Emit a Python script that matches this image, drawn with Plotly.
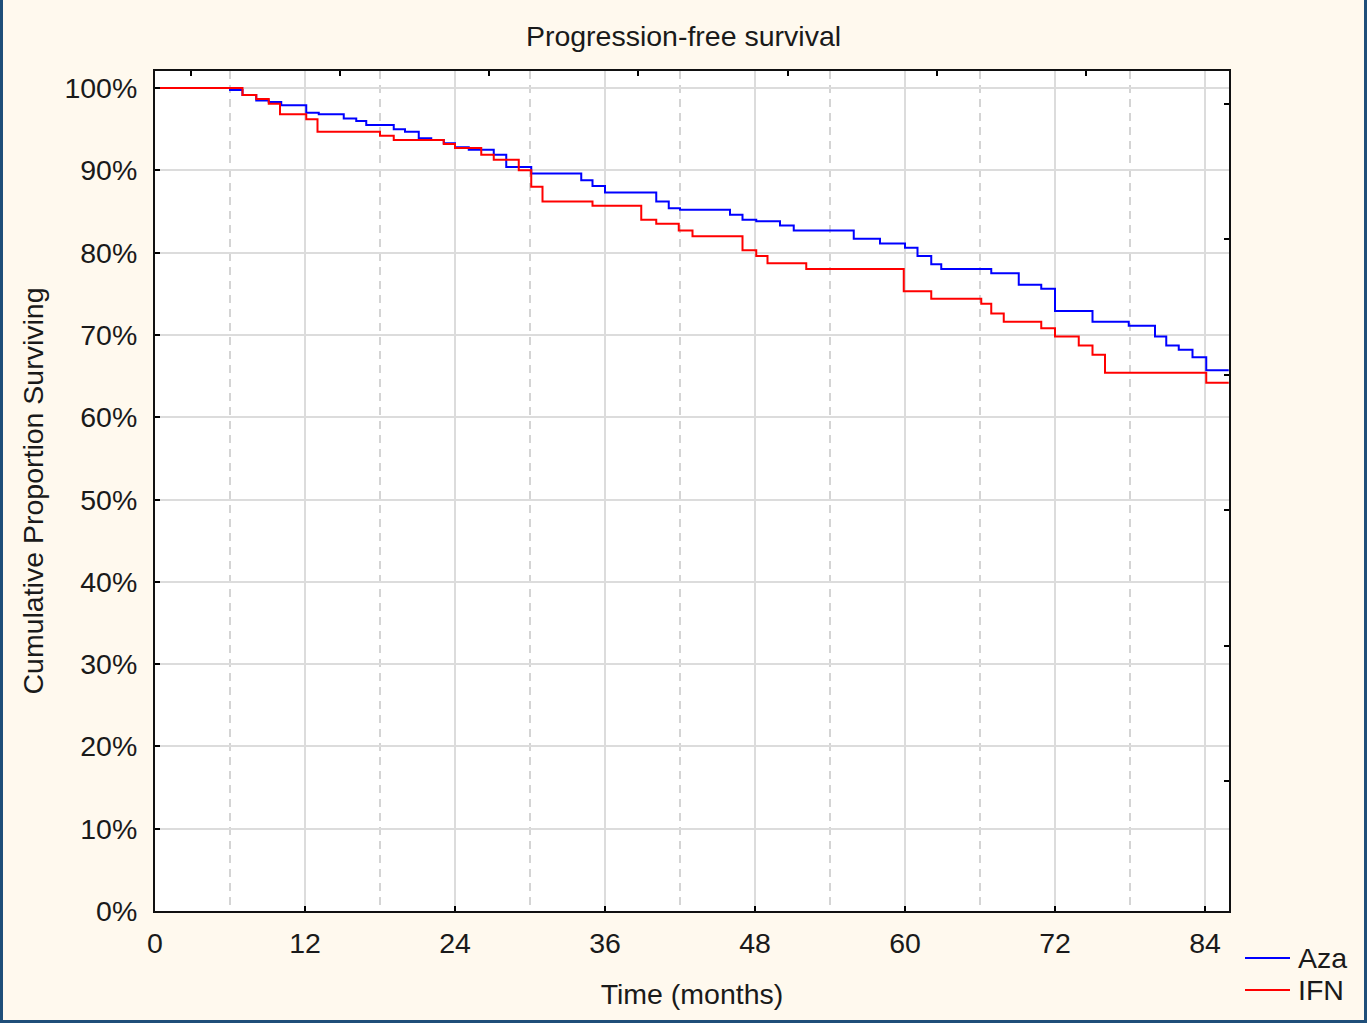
import plotly.graph_objects as go

# ---- data (months, % surviving) ----
aza_time = [0, 6.0, 7.0, 8.1, 9.1, 10.1, 12.1, 13.1, 15.1, 16.1, 16.9, 19.1, 20.0, 21.1,
            22.1, 23.1, 24.0, 25.1, 27.1, 28.1, 30.1, 34.1, 35.0, 36.0, 40.1, 41.1, 42.0,
            46.0, 47.0, 48.1, 50.0, 51.1, 55.9, 58.0, 60.0, 61.0, 62.1, 62.9, 66.9, 69.1,
            70.9, 72.0, 75.0, 77.9, 80.0, 80.9, 81.9, 83.0, 84.1, 85.9]
aza_surv = [100, 99.75, 99.15, 98.5, 98.3, 97.9, 97.0, 96.8, 96.3, 96.0, 95.5, 95.0, 94.7, 93.9,
            93.7, 93.3, 92.8, 92.5, 91.9, 90.4, 89.6, 88.8, 88.1, 87.3, 86.2, 85.4, 85.2,
            84.6, 84.0, 83.8, 83.3, 82.7, 81.7, 81.1, 80.6, 79.6, 78.6, 78.0, 77.5, 76.1,
            75.6, 72.9, 71.6, 71.1, 69.8, 68.7, 68.2, 67.3, 65.7, 65.7]

ifn_time = [0, 7.0, 8.1, 9.1, 10.0, 12.1, 13.0, 18.0, 19.1, 23.1, 24.0, 26.1, 27.1, 29.1,
            30.1, 31.0, 35.0, 38.9, 40.1, 41.9, 43.0, 47.0, 48.1, 49.0, 52.1, 59.9, 62.1,
            66.1, 66.9, 67.9, 70.9, 72.0, 73.9, 75.0, 76.0, 84.1, 85.9]
ifn_surv = [100, 99.15, 98.66, 98.1, 96.8, 96.2, 94.7, 94.2, 93.7, 93.2, 92.7, 91.9, 91.3, 90.0,
            88.0, 86.2, 85.7, 84.0, 83.5, 82.7, 82.0, 80.3, 79.6, 78.7, 78.0, 75.3, 74.4,
            73.8, 72.6, 71.6, 70.8, 69.8, 68.7, 67.6, 65.4, 64.2, 64.2]

series_names = ["Aza", "IFN"]
series_colors = ["#0000ff", "#ff0000"]

x_ticks = [0, 12, 24, 36, 48, 60, 72, 84]
x_minor = [6, 18, 30, 42, 54, 66, 78]
y_ticks = [0, 10, 20, 30, 40, 50, 60, 70, 80, 90, 100]
y_labels = [f"{v}%" for v in y_ticks]

# ---- layout geometry ----
W, H = 1367, 1023
L, R, T, B = 155, 1229, 71, 911
FONT = "Liberation Sans, Arial, sans-serif"
FS = 28.5
TXT = "#1a1a1a"


def px_x(px):
    return (px - L) / (R - L)


def px_y(py):
    return (B - py) / (B - T)


fig = go.Figure()
for t, s, n, c in [(aza_time, aza_surv, series_names[0], series_colors[0]),
                   (ifn_time, ifn_surv, series_names[1], series_colors[1])]:
    fig.add_trace(go.Scatter(x=t, y=s, mode="lines", name=n, showlegend=False,
                             line=dict(color=c, width=2, shape="hv")))
# helper trace to show the secondary (unlabelled) tick axes
fig.add_trace(go.Scatter(x=[None], y=[None], xaxis="x2", yaxis="y2", showlegend=False,
                         hoverinfo="skip"))

fig.update_layout(
    width=W, height=H, autosize=False,
    margin=dict(l=L, r=W - R, t=T, b=H - B, pad=0, autoexpand=False),
    paper_bgcolor="#fff9ee", plot_bgcolor="#ffffff",
    font=dict(family=FONT, size=FS, color=TXT),
    title=dict(text="Progression-free survival", x=0.5, xref="container", xanchor="center",
               y=1 - 36 / H, yref="container", yanchor="middle",
               font=dict(size=FS, color=TXT)),
    xaxis=dict(range=[0, 85.92], tickvals=x_ticks, ticks="inside", ticklen=5, tickwidth=2,
               tickcolor="#000", showline=True, linewidth=2, linecolor="#111", mirror=True,
               showgrid=True, gridcolor="#dcdcdc", gridwidth=2, zeroline=False,
               minor=dict(tickvals=x_minor, showgrid=True, gridcolor="#d4d4d4", gridwidth=1.5,
                          griddash="8px,6px", ticks=""),
               title=dict(text="Time (months)", standoff=26, font=dict(size=FS)),
               ticklabelstandoff=6),
    yaxis=dict(range=[0, 102.07], tickvals=y_ticks, ticktext=y_labels, ticks="inside",
               ticklen=5, tickwidth=2, tickcolor="#000", showline=True, linewidth=2,
               linecolor="#111", mirror=True, showgrid=True, gridcolor="#dcdcdc", gridwidth=2,
               zeroline=False,
               title=dict(text="Cumulative Proportion Surviving", standoff=12,
                          font=dict(size=FS)),
               ticklabelstandoff=10),
    xaxis2=dict(overlaying="x", side="top", anchor="y", range=[-0.238, 6.956],
                tickvals=[0, 1, 2, 3, 4, 5, 6], ticks="inside", ticklen=5, tickwidth=2,
                tickcolor="#000", showticklabels=False, showgrid=False, zeroline=False,
                showline=False),
    yaxis2=dict(overlaying="y", side="right", anchor="x", range=[0, 6.199],
                tickvals=[0.959, 1.959, 2.959, 3.959, 4.959, 5.959], ticks="inside", ticklen=5,
                tickwidth=2, tickcolor="#000", showticklabels=False, showgrid=False,
                zeroline=False, showline=False),
    showlegend=False,
)

# manual legend (bottom right, outside plot)
for i, (n, c) in enumerate(zip(series_names, series_colors)):
    yy = px_y(958 + 32 * i)
    fig.add_shape(type="line", xref="paper", yref="paper", x0=px_x(1245), x1=px_x(1290),
                  y0=yy, y1=yy, line=dict(color=c, width=2))
    fig.add_annotation(text=n, xref="paper", yref="paper", x=px_x(1296), y=yy,
                       xanchor="left", yanchor="middle", showarrow=False,
                       font=dict(size=FS, color=TXT))

# dark blue window frame
frame = "#1f4e79"
for (x0, x1, y0, y1) in [(0, 3, 0, H), (W - 3, W, 0, H), (0, W, H - 3, H)]:
    fig.add_shape(type="rect", xref="paper", yref="paper",
                  x0=px_x(x0), x1=px_x(x1), y0=px_y(y1), y1=px_y(y0),
                  fillcolor=frame, line=dict(width=0), layer="above")

fig.write_html("out.html")
